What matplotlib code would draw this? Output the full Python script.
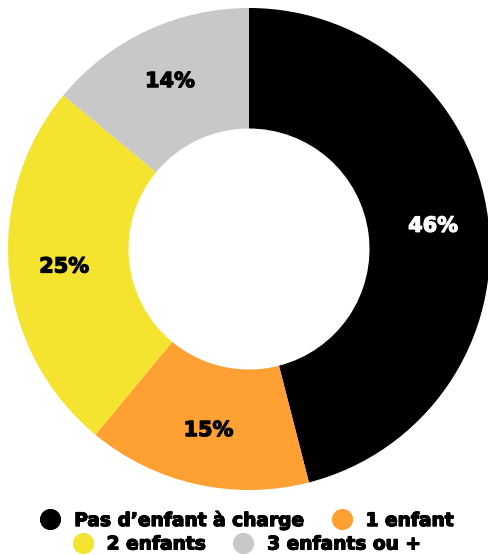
import matplotlib
matplotlib.use("Agg")
import matplotlib.pyplot as plt
import matplotlib.patheffects as pe
from matplotlib.lines import Line2D

plt.rcParams["font.family"] = ["DejaVu Sans"]

labels = ["Pas d\u2019enfant \u00e0 charge", "1 enfant", "2 enfants", "3 enfants ou +"]
values = [46, 15, 25, 14]
colors = ["#000000", "#FFA033", "#F4E42F", "#C8C8C8"]
text_colors = ["white", "black", "black", "black"]

W, H = 489, 555
fig = plt.figure(figsize=(W / 100, H / 100), dpi=100)
cx, cy, r = 249, 249, 241
ax = fig.add_axes([(cx - r) / W, (H - cy - r) / H, 2 * r / W, 2 * r / H])

wedges, texts = ax.pie(values, colors=colors, startangle=90, counterclock=False,
                       radius=1, wedgeprops=dict(width=0.5, linewidth=0),
                       labels=[f"{v}%" for v in values], labeldistance=0.77)
for t, c in zip(texts, text_colors):
    t.set_color(c)
    t.set_fontsize(15)
    t.set_fontweight("bold")
    t.set_ha("center")
    t.set_va("center")
    t.set_path_effects([pe.withStroke(linewidth=0.9, foreground=c)])
ax.set_xlim(-1, 1)
ax.set_ylim(-1, 1)
ax.set_aspect("equal")
ax.axis("off")

def handle(c):
    return Line2D([], [], marker="o", color="none", markerfacecolor=c,
                  markeredgecolor=c, markersize=14)

rows = [(0, 2, 520), (2, 4, 544)]
for a, b, ypix in rows:
    leg = fig.legend([handle(c) for c in colors[a:b]], labels[a:b], ncol=2,
                     loc="center", bbox_to_anchor=(247 / W, 1 - ypix / H),
                     frameon=False, handlelength=1.08, handletextpad=0.75,
                     columnspacing=1.45, borderpad=0, borderaxespad=0,
                     prop=dict(size=13.4, weight="bold"))
    for t in leg.get_texts():
        t.set_path_effects([pe.withStroke(linewidth=0.7, foreground="black")])
    fig.add_artist(leg)

fig.savefig("out.png", dpi=100, facecolor="white")
